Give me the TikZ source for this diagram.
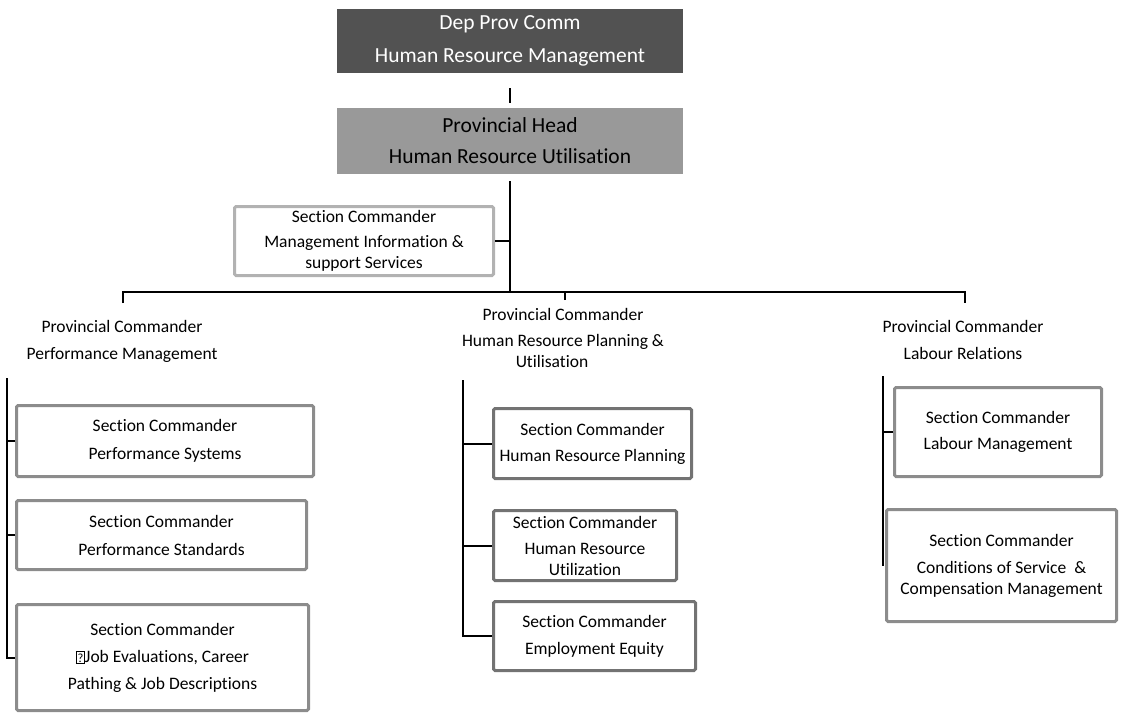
\documentclass[tikz,border=0pt]{standalone}
\usepackage{fontspec}
\setmainfont{Carlito}[RawFeature={-liga;-dlig;-clig}]
\newcommand{\qbox}{{\setlength{\fboxsep}{0.8pt}\setlength{\fboxrule}{0.8pt}\raisebox{-0.5pt}{\fbox{\fontsize{12.5}{12.5}\selectfont\rule{0pt}{10pt}?}}}}
\tikzset{
  x=1pt, y=-1pt,
  txt/.style={font=\fontsize{17.5}{21}\selectfont, align=center, inner sep=0pt},
  secbox/.style={txt, draw=#1, line width=3pt, rounded corners=1.5pt, fill=white},
  secbox/.default={black!45},
  headbox/.style={font=\fontsize{21.5}{25}\selectfont, align=center, inner sep=0pt,
     minimum width=346pt},
  conn/.style={draw=black, line width=2pt},
}
\begin{document}
\begin{tikzpicture}
\useasboundingbox (0,0) rectangle (1121,720);
% heads
\node[headbox, fill=black!68, text=white, minimum height=64pt] (top) at (510,41)
  {Dep Prov Comm\\[8pt]Human Resource Management};
\node[headbox, fill=black!40, text=black, minimum height=66pt] (ph) at (510,141)
  {Provincial Head\\[6pt]Human Resource Utilisation};
\node[secbox=black!30, minimum width=259pt, minimum height=69pt] (mis) at (364,241)
  {Section Commander\\[4pt]Management Information \&\\support Services};
% provincial commanders
\node[txt] (pcL) at (122,341) {Provincial Commander\\[6pt]Performance Management};
\node[txt] (pcM) at (563,338) {Provincial Commander\\[5pt]Human Resource Planning \&\\Utilisation\hspace*{22pt}};
\node[txt] (pcR) at (963,340) {Provincial Commander\\[6pt]Labour Relations};
% left column
\node[secbox, minimum width=297pt, minimum height=71pt] (L1) at (165,441)
  {Section Commander\\[7pt]Performance Systems};
\node[secbox, minimum width=290pt, minimum height=69pt] (L2) at (161.5,535)
  {Section Commander\\[7pt]Performance Standards};
\node[secbox, minimum width=292pt, minimum height=106pt] (L3) at (162.5,657.5)
  {Section Commander\\[6pt]\qbox Job Evaluations, Career\\[6pt]Pathing \& Job Descriptions};
% middle column
\node[secbox=black!55, minimum width=198pt, minimum height=70pt] (M1) at (592.5,443.5)
  {Section Commander\\[5pt]Human Resource Planning};
\node[secbox=black!55, minimum width=183pt, minimum height=70pt] (M2) at (585,545.5)
  {Section Commander\\[5pt]Human Resource\\Utilization};
\node[secbox=black!55, minimum width=202pt, minimum height=69pt] (M3) at (594.5,636)
  {Section Commander\\[6pt]Employment Equity};
% right column
\node[secbox, minimum width=207pt, minimum height=89pt] (R1) at (998,432)
  {Section Commander\\[5pt]Labour Management};
\node[secbox, minimum width=230pt, minimum height=112pt] (R2) at (1001.5,565.5)
  {Section Commander\\[6pt]Conditions of Service~~\&\\Compensation Management};
% coordinates
\coordinate (J) at (510,292);
\coordinate (tL) at (123,303);
\coordinate (tM) at (565,300);
\coordinate (tR) at (965,303);
\coordinate (Ltop) at (7,378);
\coordinate (Mtop) at (463,380);
\coordinate (Rtop) at (883,376);
% connectors
\draw[conn, shorten <=15pt, shorten >=5pt] (top.south) -- (ph.north);
\draw[conn, shorten <=7pt] (ph.south) -- (J);
\draw[conn] (mis.east) -- (mis.east -| J);
\draw[conn] (tL) |- (J) -| (tR);
\draw[conn] (tM) -- (tM |- J);
\draw[conn] (Ltop) |- (L3.west);
\draw[conn] (L1.west) -- (L1.west -| Ltop);
\draw[conn] (L2.west) -- (L2.west -| Ltop);
\draw[conn] (Mtop) |- (M3.west);
\draw[conn] (M1.west) -- (M1.west -| Mtop);
\draw[conn] (M2.west) -- (M2.west -| Mtop);
\draw[conn] (Rtop) -- (Rtop |- R2.west);
\draw[conn] (R1.west) -- (R1.west -| Rtop);
\end{tikzpicture}
\end{document}
